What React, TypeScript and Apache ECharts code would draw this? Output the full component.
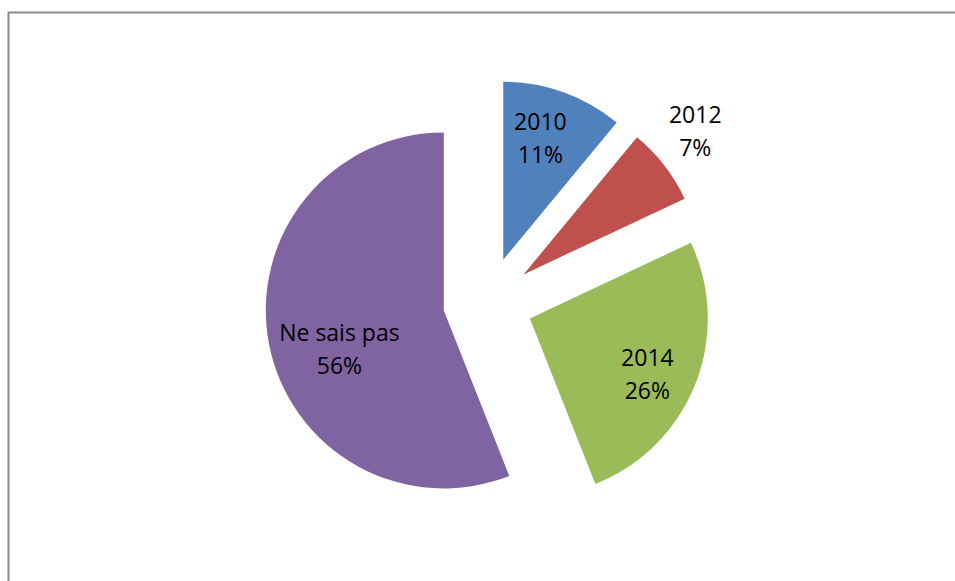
import React, { useEffect, useRef } from "react";
import * as echarts from "echarts";

const categories = ["2010", "2012", "2014", "Ne sais pas"];
const values = [11, 7, 26, 56];
const colors = ["#4F81BD", "#C0504D", "#9BBB59", "#8064A2"];
// label nudges relative to the default "inside" position
const labelShift = [
  [6, -36],
  [99, -88],
  [32, 21],
  [-14, 21],
];

export default function App() {
  const ref = useRef<HTMLDivElement>(null);
  useEffect(() => {
    document.body.style.margin = "0";
    if (!ref.current) return;
    const chart = echarts.init(ref.current, undefined, { renderer: "svg" });
    chart.setOption({
      animation: false,
      backgroundColor: "#ffffff",
      graphic: [
        {
          type: "rect",
          shape: { x: 8.5, y: 12.5, width: 1200, height: 1000 },
          style: { fill: "none", stroke: "#8a8a8a", lineWidth: 2 },
          silent: true,
        },
      ],
      series: [
        {
          type: "pie",
          center: [488, 302],
          radius: 178,
          startAngle: 90,
          clockwise: true,
          selectedMode: "multiple",
          selectedOffset: 45,
          emphasis: { disabled: true },
          data: categories.map((name, i) => ({
            name,
            value: values[i],
            selected: true,
            itemStyle: { color: colors[i] },
          })),
          label: {
            show: true,
            position: "inside",
            formatter: "{b}\n{c}%",
            color: "#000000",
            fontFamily: "Open Sans",
            fontSize: 23,
            lineHeight: 33,
            align: "center",
          },
          labelLine: { show: false },
          labelLayout: (params: any) => ({
            dx: labelShift[params.dataIndex][0],
            dy: labelShift[params.dataIndex][1],
          }),
        },
      ],
    });
    return () => chart.dispose();
  }, []);
  return <div ref={ref} style={{ width: 955, height: 581 }} />;
}
